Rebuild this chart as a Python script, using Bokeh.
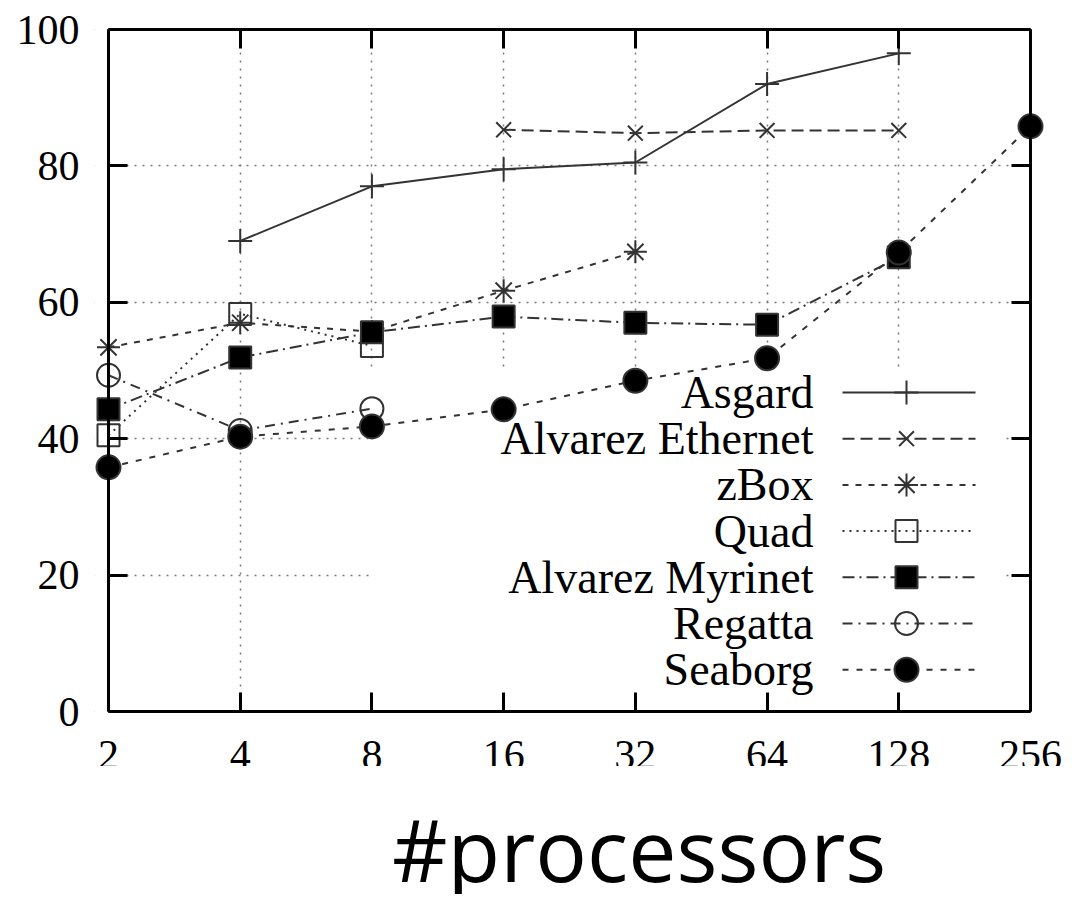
from bokeh.plotting import figure
from bokeh.models import (FixedTicker, LinearAxis, LogAxis, Label, Range1d,
                          CustomLabelingPolicy)
from bokeh.layouts import column
from bokeh.embed import file_html
from bokeh.resources import INLINE

# ---------------- data ----------------
procs = [2, 4, 8, 16, 32, 64, 128, 256]
x_tick_labels = ["2", "4", "8", "16", "32", "64", "128", "256"]
y_ticks = [0, 20, 40, 60, 80, 100]

series_names = ["Asgard", "Alvarez Ethernet", "zBox", "Quad",
                "Alvarez Myrinet", "Regatta", "Seaborg"]

asgard_x = [4, 8, 16, 32, 64, 128]
asgard_y = [69.0, 77.0, 79.5, 80.5, 92.0, 96.5]
ethernet_x = [16, 32, 64, 128]
ethernet_y = [85.3, 84.8, 85.2, 85.2]
zbox_x = [2, 4, 8, 16, 32]
zbox_y = [53.4, 57.0, 55.7, 61.7, 67.4]
quad_x = [2, 4, 8]
quad_y = [40.5, 58.3, 53.6]
myrinet_x = [2, 4, 8, 16, 32, 64, 128]
myrinet_y = [44.3, 51.9, 55.6, 57.9, 57.0, 56.7, 66.6]
regatta_x = [2, 4, 8]
regatta_y = [49.3, 41.2, 44.4]
seaborg_x = [2, 4, 8, 16, 32, 64, 128, 256]
seaborg_y = [35.8, 40.3, 41.8, 44.3, 48.5, 51.8, 67.3, 85.8]

# ---------------- layout (picture pixels) ----------------
BOX_L, BOX_R, BOX_T, BOX_B = 108, 1030, 29, 711     # the drawn plot box
FR_L, FR_R, FR_T, FR_B = 94, 1072, 15, 766          # plotting frame (a bit larger than the box)
W = 1072
H1 = FR_B
H2 = 128

def px_to_x(px):
    return 2 ** (1 + 7 * (px - BOX_L) / (BOX_R - BOX_L))

def py_to_y(py):
    return 100 * (BOX_B - py) / (BOX_B - BOX_T)

SERIF = "Liberation Serif"
INK = "#333333"

styles = [
    dict(dash="solid", marker="cross", fill=None, size=24),
    dict(dash="12 6", marker="x", fill=None, size=21),
    dict(dash="6 7", marker="asterisk", fill=None, size=23),
    dict(dash="2 5", marker="square", fill=None, size=22),
    dict(dash="12 5 2 5", marker="square", fill="black", size=22),
    dict(dash="10 6 2 6", marker="circle", fill=None, size=23),
    dict(dash="6 8", marker="circle", fill="black", size=24),
]
series_x = [asgard_x, ethernet_x, zbox_x, quad_x, myrinet_x, regatta_x, seaborg_x]
series_y = [asgard_y, ethernet_y, zbox_y, quad_y, myrinet_y, regatta_y, seaborg_y]

x_lo, x_hi = px_to_x(FR_L), px_to_x(FR_R)
y_lo, y_hi = py_to_y(FR_B), py_to_y(FR_T)

p = figure(width=W, height=H1, x_axis_type="log", title=None,
           x_range=Range1d(x_lo, x_hi), y_range=Range1d(y_lo, y_hi),
           output_backend="svg", toolbar_location=None,
           min_border_left=FR_L, min_border_top=FR_T,
           min_border_right=W - FR_R, min_border_bottom=0)
p.background_fill_color = "white"
p.border_fill_color = "white"
p.outline_line_color = None

# grids
p.xgrid.ticker = FixedTicker(ticks=procs)
p.ygrid.ticker = FixedTicker(ticks=y_ticks)
for g in (p.xgrid, p.ygrid):
    g.grid_line_color = "#7a7a7a"
    g.grid_line_dash = "2 6"
    g.grid_line_width = 1.5

hide_all = CustomLabelingPolicy(code="for (const i of indices) indices.unset(i); return indices")

def frame_axis(ax):
    """axis drawn on the box edge: line + inward ticks, no labels"""
    ax.axis_line_color = "black"
    ax.axis_line_width = 3
    ax.major_tick_in = 19
    ax.major_tick_out = 0
    ax.major_tick_line_width = 3
    ax.major_tick_line_color = "black"
    ax.minor_tick_line_color = None
    ax.major_label_text_font = SERIF
    ax.major_label_text_font_size = "10px"
    ax.major_label_standoff = 0
    ax.major_label_policy = hide_all

# left: labels from a normal axis in the side panel
yax = p.yaxis[0]
yax.ticker = FixedTicker(ticks=y_ticks)
yax.axis_line_color = None
yax.major_tick_line_color = None
yax.minor_tick_line_color = None
yax.major_tick_in = 0
yax.major_tick_out = 0
yax.major_label_text_font = SERIF
yax.major_label_text_font_size = "42px"
yax.major_label_text_color = "black"
yax.major_label_standoff = 15

left_box = LinearAxis(ticker=FixedTicker(ticks=y_ticks), fixed_location=2, bounds=(0, 100))
frame_axis(left_box)
p.add_layout(left_box, "left")

# bottom axis at y=0 (labels clipped by the canvas edge, as in the reference)
xax = p.xaxis[0]
xax.ticker = FixedTicker(ticks=procs)
xax.major_label_overrides = {v: s for v, s in zip(procs, x_tick_labels)}
xax.fixed_location = 0
xax.bounds = (2, 256)
xax.axis_line_color = "black"
xax.axis_line_width = 3
xax.major_tick_in = 19
xax.major_tick_out = 0
xax.major_tick_line_width = 3
xax.major_tick_line_color = "black"
xax.minor_tick_line_color = None
xax.major_label_text_font = SERIF
xax.major_label_text_font_size = "42px"
xax.major_label_text_color = "black"
xax.major_label_standoff = 29

top_ax = LogAxis(ticker=FixedTicker(ticks=procs), fixed_location=100, bounds=(2, 256))
frame_axis(top_ax)
p.add_layout(top_ax, "above")
right_ax = LinearAxis(ticker=FixedTicker(ticks=y_ticks), fixed_location=256, bounds=(0, 100))
frame_axis(right_ax)
p.add_layout(right_ax, "right")

# white masks outside the plot box (grid stays inside the box)
p.quad(left=[x_lo, 256, x_lo, x_lo], right=[2, x_hi, x_hi, x_hi],
       bottom=[y_lo, y_lo, 100, y_lo], top=[y_hi, y_hi, y_hi, 0],
       fill_color="white", line_color=None)
# opaque key box (gnuplot style)
p.quad(left=px_to_x(369), right=px_to_x(1005), bottom=0, top=py_to_y(368),
       fill_color="white", line_color=None)

# data series
for xs, ys, st in zip(series_x, series_y, styles):
    p.line(xs, ys, line_color=INK, line_width=2, line_dash=st["dash"])
    p.scatter(xs, ys, marker=st["marker"], size=st["size"], line_color=INK,
              line_width=2, fill_color=st["fill"])

# key (labels left, samples right)
row_y0, row_dy = 392, 46.2
for i, (name, st) in enumerate(zip(series_names, styles)):
    yy = py_to_y(row_y0 + i * row_dy)
    p.add_layout(Label(x=px_to_x(813), y=yy, text=name, text_align="right",
                       text_baseline="middle", text_font=SERIF,
                       text_font_size="46px", text_color="black"))
    p.line([px_to_x(842), px_to_x(975)], [yy, yy], line_color=INK, line_width=2,
           line_dash=st["dash"])
    p.scatter([px_to_x(906)], [yy], marker=st["marker"], size=st["size"],
              line_color=INK, line_width=2, fill_color=st["fill"])

# second strip: axis title
q = figure(width=W, height=H2, x_range=Range1d(0, W), y_range=Range1d(0, H2),
           output_backend="svg", toolbar_location=None, min_border=0, title=None,
           x_axis_location=None, y_axis_location=None)
q.outline_line_color = None
q.grid.visible = False
q.background_fill_color = "white"
q.border_fill_color = "white"
q.add_layout(Label(x=597, y=46, text="#processors", text_align="center",
                   text_baseline="alphabetic", text_font="Open Sans",
                   text_font_size="86px", text_color="black"))

layout = column(p, q, spacing=0)
open("out.html", "w").write(file_html(layout, INLINE))
